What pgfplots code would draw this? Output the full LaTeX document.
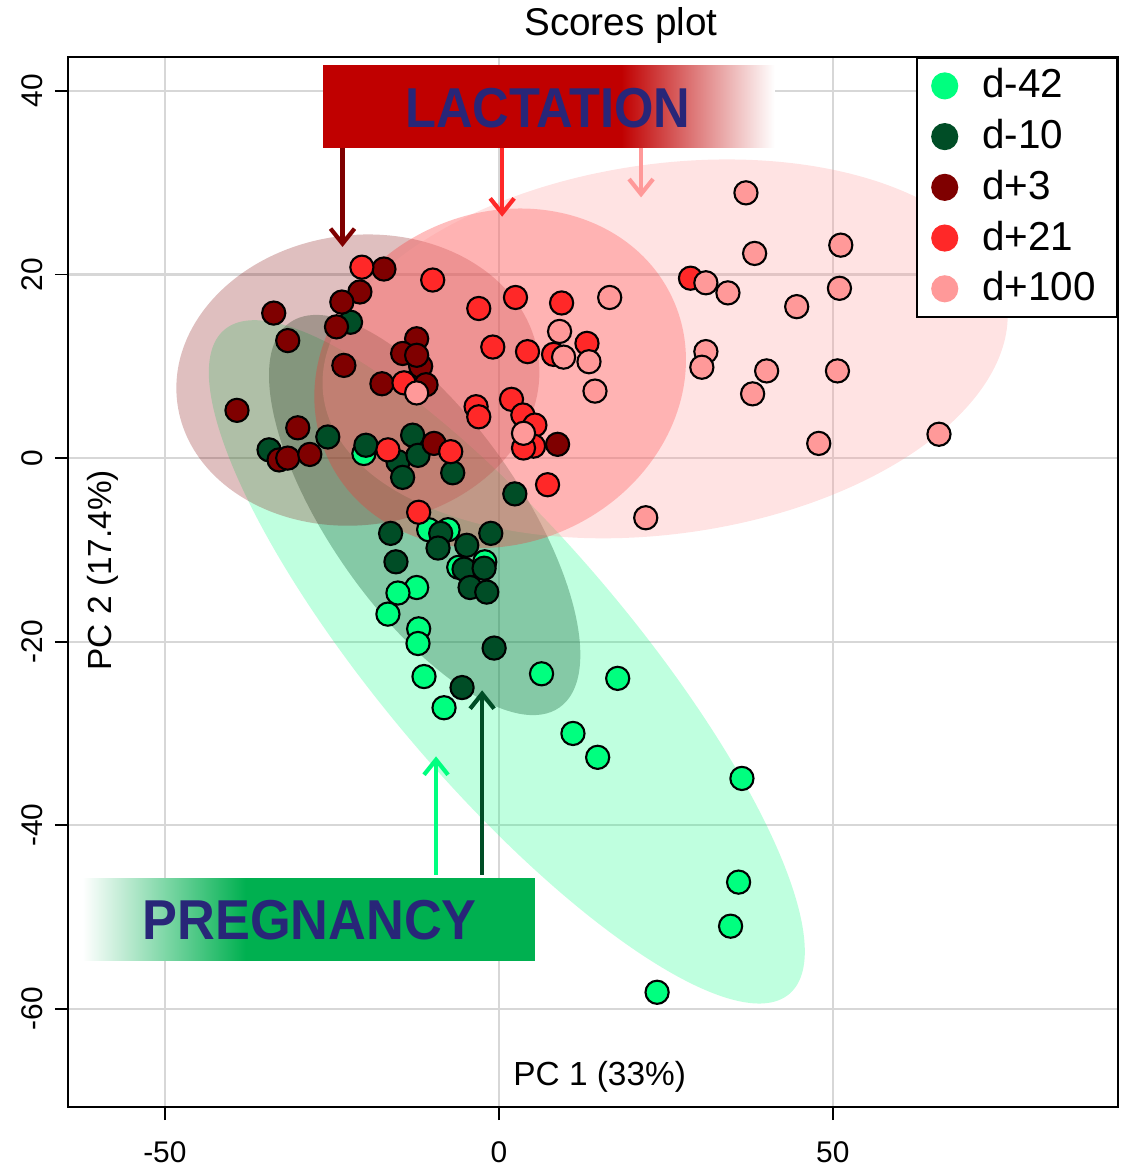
\documentclass[border=0pt]{standalone}
\usepackage{fontspec}
\setmainfont{Liberation Sans}
\usepackage{pgfplots}
\pgfplotsset{compat=1.18}
\usetikzlibrary{arrows.meta}

\definecolor{c42}{RGB}{0,255,127}
\definecolor{c10}{RGB}{0,77,38}
\definecolor{c3}{RGB}{127,0,0}
\definecolor{c21}{RGB}{255,40,40}
\definecolor{c100}{RGB}{255,153,153}
\definecolor{lacred}{RGB}{192,0,0}
\definecolor{preggreen}{RGB}{0,176,80}
\definecolor{navytxt}{RGB}{40,38,120}
\definecolor{gridgray}{RGB}{215,215,215}

% banner fades (the box maps onto 25bp..75bp)
\pgfdeclarehorizontalshading{lacshade}{100bp}{color(0bp)=(lacred); color(25bp)=(lacred); color(58bp)=(lacred); color(75bp)=(white); color(100bp)=(white)}
\pgfdeclarehorizontalshading{pregshade}{100bp}{color(0bp)=(white); color(25bp)=(white); color(43bp)=(preggreen); color(75bp)=(preggreen); color(100bp)=(preggreen)}

\begin{document}
\begin{tikzpicture}
\begin{axis}[width=10.5cm, height=10.5cm, scale only axis,
  xmin=-64.5, xmax=92.7, ymin=-70.7, ymax=43.7,
  xtick={-50,0,50}, xticklabels={-50,0,50},
  ytick={-60,-40,-20,0,20,40}, yticklabels={-60,-40,-20,0,20,40},
  tick pos=left, tick align=outside, major tick length=0.13cm,
  tick style={black, line width=0.5pt},
  ticklabel style={font=\fontsize{8.5}{10}\selectfont},
  xticklabel style={yshift=-0.09cm},
  yticklabel style={rotate=90, anchor=south},
  grid=major, major grid style={gridgray, line width=0.6pt},
  axis line style={line width=0.8pt},
  clip=false,
  legend style={at={(1,1)}, anchor=north east, draw=black, line width=0.6pt,
    fill=white, font=\fontsize{11.5}{13}\selectfont, row sep=0.6pt, column sep=0.17cm,
    inner xsep=4pt, inner ysep=1pt},
  legend cell align=left,
  legend image code/.code={\fill[#1] (0.2cm,0cm) circle (0.125cm);}]

% legend entries
\addlegendimage{c42}\addlegendentry{d-42}
\addlegendimage{c10}\addlegendentry{d-10}
\addlegendimage{c3}\addlegendentry{d+3}
\addlegendimage{c21}\addlegendentry{d+21}
\addlegendimage{c100}\addlegendentry{d+100}

% confidence ellipses
\fill[overlay, c42, opacity=0.25, rotate around={-49.6:(axis cs:1.2,-22.2)}] (axis cs:1.2,-22.2) ellipse [x radius=4.36cm, y radius=1.24cm];
\fill[overlay, c10, opacity=0.3, rotate around={-55:(axis cs:-11.1,-6.2)}] (axis cs:-11.1,-6.2) ellipse [x radius=2.35cm, y radius=0.95cm];
\fill[overlay, c3, opacity=0.25, rotate around={7:(axis cs:-21.1,8.5)}] (axis cs:-21.1,8.5) ellipse [x radius=1.82cm, y radius=1.45cm];
\fill[overlay, c21, opacity=0.3, rotate around={25:(axis cs:0.2,8.7)}] (axis cs:0.2,8.7) ellipse [x radius=1.9cm, y radius=1.65cm];
\fill[overlay, c100, opacity=0.28, rotate around={8:(axis cs:24.9,11.9)}] (axis cs:24.9,11.9) ellipse [x radius=3.45cm, y radius=1.85cm];

% scores
\addplot[forget plot, only marks, mark=*, mark size=3.3pt, mark options={fill=c42, draw=black, line width=0.6pt}] coordinates {
(-20.2,0.5) (-10.5,-7.8) (-7.6,-7.8) (-6.0,-11.9) (-2.1,-11.3) (-12.3,-14.1) (-15.1,-14.7) (-16.6,-17.0) (-12.0,-18.6) (-12.1,-20.2)
(-11.2,-23.8) (6.4,-23.5) (-8.2,-27.2) (17.8,-24.0) (11.1,-30.0) (14.8,-32.6) (36.4,-34.9) (35.9,-46.2) (34.7,-51.0) (23.7,-58.2)};
\addplot[forget plot, only marks, mark=*, mark size=3.3pt, mark options={fill=c10, draw=black, line width=0.6pt}] coordinates {
(-22.2,14.8) (-34.4,0.9) (-25.6,2.3) (-19.9,1.4) (-15.1,-0.4) (-12.9,2.5) (-12.1,0.3) (-14.4,-2.1) (-6.9,-1.6) (2.4,-3.9)
(-16.2,-8.2) (-8.7,-8.2) (-1.2,-8.2) (-9.1,-9.8) (-4.8,-9.5) (-15.4,-11.3) (-5.2,-12.1) (-2.2,-12.0) (-4.3,-14.1) (-1.8,-14.6)
(-0.7,-20.7) (-5.5,-25.0)};
\addplot[forget plot, only marks, mark=*, mark size=3.3pt, mark options={fill=c3, draw=black, line width=0.6pt}] coordinates {
(-17.2,20.6) (-20.8,18.1) (-23.5,17.0) (-24.3,14.3) (-33.7,15.8) (-31.6,12.8) (-23.2,10.1) (-12.3,13.0) (-14.4,11.4) (-11.7,10.0)
(-12.3,11.2) (-17.5,8.1) (-10.9,8.0) (-39.2,5.2) (-30.1,3.3) (-32.9,-0.2) (-31.6,0.0) (-28.3,0.4) (-9.7,1.6) (8.8,1.5)};
\addplot[forget plot, only marks, mark=*, mark size=3.3pt, mark options={fill=c21, draw=black, line width=0.6pt}] coordinates {
(-20.5,20.8) (-9.9,19.4) (-3.0,16.3) (2.5,17.5) (9.4,16.9) (-0.9,12.1) (4.3,11.6) (8.2,11.3) (13.2,12.5) (-14.2,8.2)
(-3.4,5.6) (-3.0,4.5) (1.9,6.4) (3.6,4.7) (5.4,3.6) (5.2,1.3) (3.7,1.1) (-16.6,0.9) (-7.2,0.7) (7.3,-2.9) (-12.0,-5.9) (28.7,19.6)};
\addplot[forget plot, only marks, mark=*, mark size=3.3pt, mark options={fill=c100, draw=black, line width=0.6pt}] coordinates {
(37.0,28.9) (51.2,23.2) (38.3,22.3) (31.0,19.1) (34.3,18.0) (51.0,18.5) (44.6,16.5) (16.6,17.5) (9.1,13.8) (9.7,11.0)
(13.5,10.5) (31.0,11.6) (30.4,9.9) (40.1,9.5) (50.7,9.5) (14.4,7.3) (38.0,7.0) (-12.3,7.1) (3.7,2.7) (47.9,1.6) (65.9,2.6) (22.0,-6.5)};

% LACTATION banner
\shade[shading=lacshade] (axis cs:-26.3,33.8) rectangle (axis cs:41.3,42.8);
\node[text=navytxt, font=\fontsize{16}{18}\selectfont\bfseries, xscale=0.9] at (axis cs:7.3,38.1) {LACTATION};
\draw[c3, line width=1.2pt, -{Straight Barb[length=1.5mm, width=2.4mm]}] (axis cs:-23.4,33.8) -- (axis cs:-23.4,23.0);
\draw[c21, line width=1.2pt, -{Straight Barb[length=1.5mm, width=2.4mm]}] (axis cs:0.5,33.8) -- (axis cs:0.5,26.3);
\draw[c100, line width=1.2pt, -{Straight Barb[length=1.5mm, width=2.4mm]}] (axis cs:21.3,33.8) -- (axis cs:21.3,28.4);

% PREGNANCY banner
\shade[shading=pregshade] (axis cs:-62.3,-54.7) rectangle (axis cs:5.4,-45.8);
\node[text=navytxt, font=\fontsize{16}{18}\selectfont\bfseries, xscale=0.93] at (axis cs:-28.3,-50.3) {PREGNANCY};
\draw[c42, line width=1.2pt, -{Straight Barb[length=1.5mm, width=2.4mm]}] (axis cs:-9.4,-45.4) -- (axis cs:-9.4,-32.5);
\draw[c10, line width=1.2pt, -{Straight Barb[length=1.5mm, width=2.4mm]}] (axis cs:-2.5,-45.4) -- (axis cs:-2.5,-25.3);

% labels and title
\node[font=\fontsize{9.5}{11}\selectfont] at (axis cs:15.1,-67.4) {PC 1 (33\%)};
\node[font=\fontsize{9.5}{11}\selectfont, rotate=90] at (axis cs:-59.3,-12.2) {PC 2 (17.4\%)};
\node[font=\fontsize{11}{13}\selectfont] at (axis cs:18.3,47.1) {Scores plot};

\coordinate (bbSW) at ([xshift=-0.68cm, yshift=-0.59cm]rel axis cs:0,0);
\coordinate (bbNE) at ([xshift=0.08cm, yshift=0.57cm]rel axis cs:1,1);
\end{axis}
\pgfresetboundingbox
\path[use as bounding box] (bbSW) rectangle (bbNE);
\end{tikzpicture}
\end{document}
